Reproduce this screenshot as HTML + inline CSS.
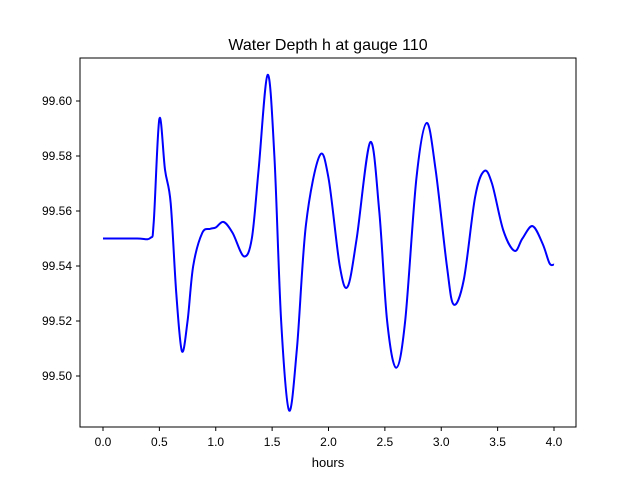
<!DOCTYPE html>
<html><head><meta charset="utf-8"><style>
body{margin:0;background:#fff;font-family:"Liberation Sans","DejaVu Sans",sans-serif}
</style></head><body>
<svg id="chart" width="640" height="480" xmlns="http://www.w3.org/2000/svg">
<rect width="640" height="480" fill="#fff"/>
<text x="328" y="50" text-anchor="middle" font-size="16">Water Depth h at gauge 110</text>
<g id="xt"></g>
<g id="yt"></g>
<path id="line" fill="none" stroke="#0000ff" stroke-width="2"/>
<rect x="80" y="58" width="496" height="369" fill="none" stroke="#000" stroke-width="1"/>
<text x="328" y="467" text-anchor="middle" font-size="13">hours</text>
</svg>
<script>
const hours=[0,0.3,0.42,0.45,0.5,0.55,0.6,0.65,0.7,0.75,0.8,0.88,0.95,1.0,1.07,1.15,1.25,1.32,1.38,1.46,1.52,1.58,1.65,1.72,1.8,1.92,2.0,2.1,2.17,2.25,2.37,2.45,2.52,2.6,2.68,2.78,2.87,2.95,3.05,3.11,3.2,3.3,3.38,3.45,3.55,3.65,3.72,3.81,3.9,3.96,4.0];
const depth=[99.550,99.550,99.5502,99.556,99.5935,99.575,99.563,99.53,99.509,99.52,99.54,99.552,99.5535,99.554,99.556,99.552,99.5435,99.55,99.575,99.6095,99.58,99.52,99.4875,99.51,99.555,99.580,99.572,99.54,99.5325,99.55,99.585,99.56,99.52,99.503,99.52,99.572,99.592,99.575,99.54,99.526,99.535,99.565,99.5745,99.57,99.553,99.5455,99.55,99.5545,99.548,99.541,99.5405];
const xTicks=[0,0.5,1,1.5,2,2.5,3,3.5,4];
const yTicks=[99.50,99.52,99.54,99.56,99.58,99.60];
const sx=v=>103+v*112.75, sy=v=>376-(v-99.50)*2750;
const ns="http://www.w3.org/2000/svg";
const xt=document.getElementById('xt'), yt=document.getElementById('yt');
xTicks.forEach(t=>{
  const l=document.createElementNS(ns,'line');
  
  
  l.setAttribute('x1',sx(t));l.setAttribute('x2',sx(t));l.setAttribute('y1',427);l.setAttribute('y2',431);l.setAttribute('stroke','#000');
  xt.appendChild(l);
  const tx=document.createElementNS(ns,'text');
  
  
  tx.setAttribute('x',sx(t));tx.setAttribute('y',446);tx.setAttribute('text-anchor','middle');tx.setAttribute('font-size','12');
  tx.textContent=t.toFixed(1);xt.appendChild(tx);
});
yTicks.forEach(t=>{
  const l=document.createElementNS(ns,'line');
  
  
  l.setAttribute('x1',76);l.setAttribute('x2',80);l.setAttribute('y1',sy(t));l.setAttribute('y2',sy(t));l.setAttribute('stroke','#000');
  yt.appendChild(l);
  const tx=document.createElementNS(ns,'text');
  
  
  tx.setAttribute('x',72);tx.setAttribute('y',sy(t)+4);tx.setAttribute('text-anchor','end');tx.setAttribute('font-size','12');
  tx.textContent=t.toFixed(2);yt.appendChild(tx);
});
const P=hours.map((h,i)=>[sx(h),sy(depth[i])]);
let d='M'+P[0][0]+','+P[0][1];
for(let i=0;i<P.length-1;i++){
  const p0=P[Math.max(0,i-1)],p1=P[i],p2=P[i+1],p3=P[Math.min(P.length-1,i+2)];
  const c1=[p1[0]+(p2[0]-p0[0])/6,p1[1]+(p2[1]-p0[1])/6];
  const c2=[p2[0]-(p3[0]-p1[0])/6,p2[1]-(p3[1]-p1[1])/6];
  d+=` C${c1[0]},${c1[1]} ${c2[0]},${c2[1]} ${p2[0]},${p2[1]}`;
}
document.getElementById('line').setAttribute('d',d);
</script>
</body></html>
